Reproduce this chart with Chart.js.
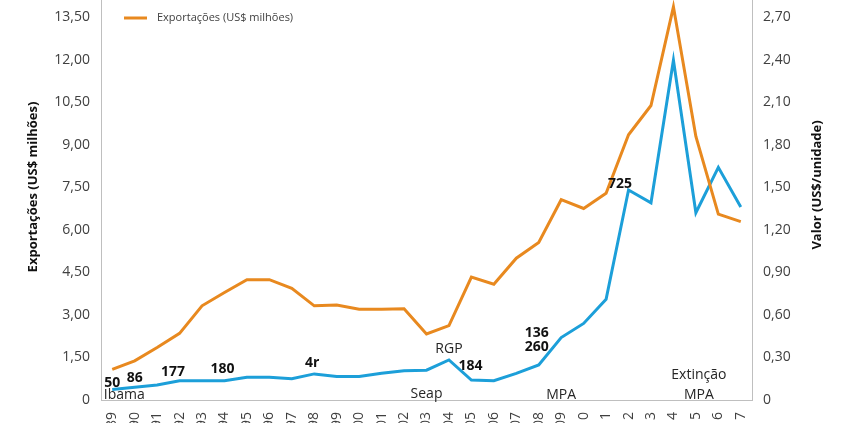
<!DOCTYPE html>
<html>
<head>
<meta charset="utf-8">
<script src="https://cdn.jsdelivr.net/npm/chart.js@4/dist/chart.umd.min.js"></script>
<style>
  html, body { margin: 0; padding: 0; background: #fff; overflow: hidden; }
  #wrap { position: relative; width: 850px; height: 470px; }
</style>
</head>
<body>
<div id="wrap"><canvas id="c" width="850" height="470"></canvas></div>
<script>
// ---- data ----
const years = ['1989','1990','1991','1992','1993','1994','1995','1996','1997','1998','1999','2000','2001','2002','2003','2004','2005','2006','2007','2008','2009','2010','2011','2012','2013','2014','2015','2016','2017'];
const exportacoes = [1.08,1.38,1.85,2.35,3.32,3.79,4.24,4.24,3.94,3.32,3.35,3.20,3.20,3.22,2.33,2.62,4.33,4.08,5.00,5.55,7.06,6.75,7.29,9.35,10.38,13.86,9.29,6.55,6.29];
const valorUnidade = [0.074,0.09,0.106,0.136,0.136,0.136,0.16,0.16,0.15,0.184,0.165,0.165,0.188,0.207,0.21,0.282,0.141,0.136,0.188,0.247,0.44,0.54,0.71,1.48,1.39,2.395,1.32,1.64,1.36];
const leftTicks = [0,1.5,3,4.5,6,7.5,9,10.5,12,13.5];
const rightTicks = [0,0.3,0.6,0.9,1.2,1.5,1.8,2.1,2.4,2.7];
const seriesNames = ['Exportações (US$ milhões)', 'Valor (US$/unidade)'];
const axisTitles = ['Exportações (US$ milhões)', 'Valor (US$/unidade)'];
const valueLabels = ['50','86','177','180','4r','184','136','260','725'];
const eventLabels = ['Ibama','Seap','RGP','MPA','Extinção','MPA'];

// ---- layout of text annotations (style, not data) ----
const valueLabelPos = [
  {i:0, dx:0, y:383}, {i:1, dx:0, y:378}, {i:2, dx:16, y:372}, {i:5, dx:-2, y:369},
  {i:9, dx:-2, y:363}, {i:16, dx:-1, y:366}, {i:19, dx:-2, y:333}, {i:19, dx:-2, y:347},
  {i:22, dx:14, y:184}
];
const eventLabelPos = [
  {i:0, dx:12, y:395}, {i:14, dx:0, y:394}, {i:15, dx:0, y:349},
  {i:20, dx:0, y:395}, {i:26, dx:3, y:375}, {i:26, dx:3, y:395}
];

const ORANGE = '#E8891F';
const BLUE = '#1C9FD9';
const FONT = "'Open Sans', 'DejaVu Sans', sans-serif";
const fmt = v => Math.abs(v) < 1e-9 ? '0' : v.toFixed(2).replace('.', ',');
const near = (list, v) => list.some(t => Math.abs(t - v) < 1e-6);
const noPad = s => { s.paddingTop = 0; s.paddingBottom = 0; s.paddingLeft = 0; s.paddingRight = 0; };

const textPlugin = {
  id: 'texts',
  afterDatasetsDraw(chart) {
    const ctx = chart.ctx;
    const x = chart.scales.x;
    ctx.save();
    ctx.fillStyle = '#111';
    ctx.font = 'bold 14px ' + FONT;
    ctx.textAlign = 'center';
    ctx.textBaseline = 'middle';
    valueLabels.forEach((t, k) => {
      const p = valueLabelPos[k];
      ctx.fillText(t, x.getPixelForValue(p.i) + p.dx, p.y);
    });
    ctx.fillStyle = '#262626';
    ctx.font = '14px ' + FONT;
    eventLabels.forEach((t, k) => {
      const p = eventLabelPos[k];
      ctx.fillText(t, x.getPixelForValue(p.i) + p.dx, p.y);
    });
    // legend
    ctx.strokeStyle = ORANGE;
    ctx.lineWidth = 3;
    ctx.beginPath();
    ctx.moveTo(124, 18); ctx.lineTo(147, 18);
    ctx.stroke();
    ctx.fillStyle = '#404040';
    ctx.font = '11px ' + FONT;
    ctx.textAlign = 'left';
    ctx.fillText(seriesNames[0], 157, 18);
    // axis titles (both bottom-to-top)
    ctx.fillStyle = '#111';
    ctx.font = 'bold 13px ' + FONT;
    ctx.textAlign = 'center';
    ctx.save();
    ctx.translate(33, 187);
    ctx.rotate(-Math.PI / 2);
    ctx.fillText(axisTitles[0], 0, 0);
    ctx.restore();
    ctx.save();
    ctx.translate(817, 185);
    ctx.rotate(-Math.PI / 2);
    ctx.fillText(axisTitles[1], 0, 0);
    ctx.restore();
    ctx.restore();
  }
};

new Chart(document.getElementById('c'), {
  type: 'line',
  data: {
    labels: years,
    datasets: [
      { label: seriesNames[0], data: exportacoes, yAxisID: 'y', borderColor: ORANGE, backgroundColor: ORANGE,
        borderWidth: 3, pointRadius: 0, tension: 0, fill: false },
      { label: seriesNames[1], data: valorUnidade, yAxisID: 'y1', borderColor: BLUE, backgroundColor: BLUE,
        borderWidth: 3, pointRadius: 0, tension: 0, fill: false }
    ]
  },
  options: {
    responsive: false,
    animation: false,
    layout: { padding: 0 },
    plugins: { legend: { display: false }, tooltip: { enabled: false } },
    scales: {
      x: {
        offset: true,
        grid: { display: false, drawTicks: false },
        border: { display: true, color: '#BFBFBF', width: 1 },
        ticks: { autoSkip: false, maxRotation: 90, minRotation: 90, padding: 12,
                 color: '#404040', font: { family: FONT, size: 14 } },
        afterFit(s) { s.height = 70; noPad(s); }
      },
      y: {
        position: 'left',
        min: 0, max: 14.1,
        grid: { display: false, drawTicks: false },
        border: { display: true, color: '#BFBFBF', width: 1 },
        ticks: { stepSize: 1.5, padding: 11, color: '#404040', font: { family: FONT, size: 14 },
                 callback: v => fmt(v) },
        afterBuildTicks(s) { s.ticks = s.ticks.filter(t => near(leftTicks, t.value)); },
        afterFit(s) { s.width = 101; noPad(s); }
      },
      y1: {
        position: 'right',
        min: 0, max: 2.82,
        grid: { display: false, drawTicks: false },
        border: { display: true, color: '#BFBFBF', width: 1 },
        ticks: { stepSize: 0.3, padding: 11, color: '#404040', font: { family: FONT, size: 14 },
                 callback: v => fmt(v) },
        afterBuildTicks(s) { s.ticks = s.ticks.filter(t => near(rightTicks, t.value)); },
        afterFit(s) { s.width = 98; noPad(s); }
      }
    }
  },
  plugins: [textPlugin]
});
</script>
</body>
</html>
